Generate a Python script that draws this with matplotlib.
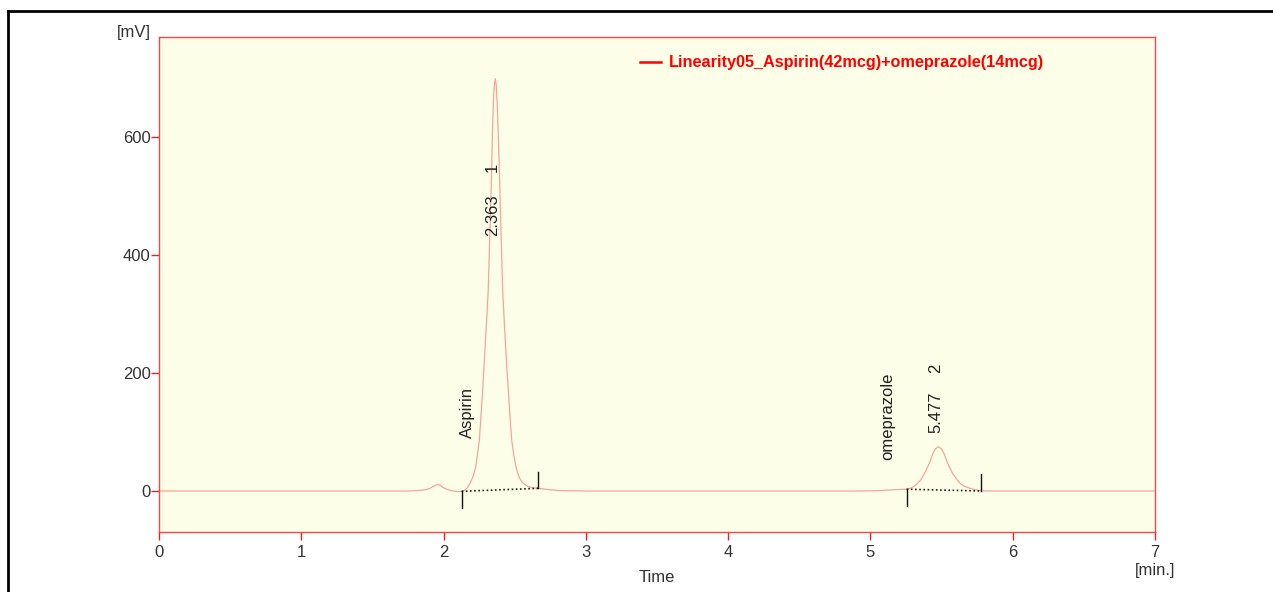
import matplotlib
matplotlib.use('Agg')
import matplotlib.pyplot as plt
from matplotlib.lines import Line2D

plt.rcParams['font.family'] = ['Liberation Sans', 'DejaVu Sans']

# Detector signal, time [min] vs mV
time_min = [0.00, 1.75, 1.80, 1.85, 1.88, 1.905, 1.93, 1.95, 1.963, 1.975, 1.995, 2.022,
            2.05, 2.08, 2.10, 2.127, 2.145, 2.165, 2.186, 2.206, 2.226, 2.238, 2.251,
            2.263, 2.275, 2.285, 2.295, 2.305, 2.314, 2.320, 2.326, 2.332, 2.338, 2.344,
            2.350, 2.356, 2.363, 2.370, 2.378, 2.385, 2.392, 2.398, 2.404, 2.410, 2.415,
            2.425, 2.435, 2.445, 2.455, 2.467, 2.479, 2.494, 2.509, 2.525, 2.540, 2.560,
            2.580, 2.600, 2.630, 2.666, 2.70, 2.75, 2.80, 2.85, 2.95, 3.00,
            4.90, 5.05, 5.12, 5.20, 5.255, 5.278, 5.30, 5.325, 5.353, 5.385, 5.414,
            5.435, 5.455, 5.477, 5.500, 5.520, 5.543, 5.575, 5.610, 5.635, 5.66, 5.70,
            5.74, 5.777, 5.82, 7.00]
signal_mv = [0.0, 0.0, 0.5, 1.5, 2.5, 4.6, 8.0, 10.5, 11.0, 10.0, 6.0, 3.0,
             1.0, -0.5, -1.0, -0.5, 1.0, 5.0, 13.0, 24.0, 41.0, 62.0, 86.0,
             127.0, 171.0, 215.0, 258.0, 300.0, 341.0, 392.0, 443.0, 493.0, 544.0, 613.0,
             657.0, 687.0, 699.0, 688.0, 650.0, 600.0, 544.0, 491.0, 438.0, 385.0, 341.0,
             295.0, 250.0, 208.0, 171.0, 125.0, 86.0, 60.0, 41.0, 27.0, 19.0, 13.0,
             9.5, 7.0, 5.5, 4.5, 3.5, 2.0, 1.0, 0.5, 0.2, 0.0,
             0.0, 0.5, 1.5, 2.5, 3.0, 4.5, 7.0, 11.5, 18.6, 32.0, 47.0,
             61.0, 71.0, 75.0, 71.0, 62.0, 47.0, 31.0, 18.6, 12.0, 8.0, 4.5,
             2.0, 0.5, 0.0, 0.0]

# Integrated peaks
peak_names = ['Aspirin', 'omeprazole']
peak_numbers = ['1', '2']
retention_times = [2.363, 5.477]
base_start = [(2.127, -0.5), (5.255, 3.0)]
base_end = [(2.666, 4.5), (5.777, 0.0)]

legend_label = 'Linearity05_Aspirin(42mcg)+omeprazole(14mcg)'

W, H = 1273, 592
fig = plt.figure(figsize=(W / 100, H / 100), dpi=100)
ax = fig.add_axes([159 / W, 1 - 532 / H, (1155 - 159) / W, (532 - 37) / H])
ax.set_facecolor('#fdfee8')

ax.plot(time_min, signal_mv, color='#f6a596', lw=0.9, zorder=2)

# integration baselines and start / end markers
for (t0, y0), (t1, y1) in zip(base_start, base_end):
    ax.plot([t0, t1], [y0, y1], color='#222222', lw=1.2, ls=(0, (1, 1.5)), zorder=3)
    ax.plot([t0, t0], [y0, y0 - 28], color='#111111', lw=1.0, zorder=3)
    ax.plot([t1, t1], [y1, y1 + 28], color='#111111', lw=1.0, zorder=3)

# peak annotations
ax.text(retention_times[0] - 0.018, 432, f'{retention_times[0]:.3f}', rotation=90,
        ha='center', va='bottom', fontsize=12, color='#222222')
ax.text(retention_times[0] - 0.018, 541, peak_numbers[0], rotation=90,
        ha='center', va='bottom', fontsize=12, color='#222222')
ax.text(2.168, 89, peak_names[0], rotation=90, ha='center', va='bottom',
        fontsize=12, color='#222222')
ax.text(retention_times[1] - 0.018, 98, f'{retention_times[1]:.3f}', rotation=90,
        ha='center', va='bottom', fontsize=12, color='#222222')
ax.text(retention_times[1] - 0.018, 200, peak_numbers[1], rotation=90,
        ha='center', va='bottom', fontsize=12, color='#222222')
ax.text(5.122, 53, peak_names[1], rotation=90, ha='center', va='bottom',
        fontsize=12, color='#222222')

ax.set_xlim(0, 7)
ax.set_ylim(-69.5, 769.5)
ax.set_xticks(range(8))
ax.set_yticks([0, 200, 400, 600])
for s in ax.spines.values():
    s.set_color('#f04848')
    s.set_linewidth(1.0)
ax.tick_params(axis='x', colors='#ee2020', labelcolor='#333333', length=5.5,
               width=1.0, pad=4, labelsize=12)
ax.tick_params(axis='y', colors='#ee2020', labelcolor='#333333', length=5.5,
               width=1.0, pad=0.5, labelsize=12)

ax.text(3.5, -(577 - 532) / 495 * 840 - 69.5, 'Time', ha='center', va='center',
        fontsize=12, color='#333333')
ax.text(7.0, -(570 - 532) / 495 * 840 - 69.5, '[min.]', ha='center', va='center',
        fontsize=12, color='#333333', clip_on=False)
ax.text(-8 / 142.29, 769.5 + 4.5 / 0.59, '[mV]', ha='right', va='center',
        fontsize=12, color='#333333', clip_on=False)

handle = Line2D([], [], color='red', lw=1.8)
ax.legend([handle], [legend_label], loc='center left',
          bbox_to_anchor=((640 - 159) / 996, (532 - 63) / 495),
          frameon=False, borderpad=0, borderaxespad=0, handlelength=1.3,
          handletextpad=0.45, labelcolor='red',
          prop={'weight': 'bold', 'size': 11.7})

# page frame
fig.add_artist(Line2D([7.5 / W, 7.5 / W], [0, 1 - 10.5 / H], color='black', lw=2,
                      transform=fig.transFigure))
fig.add_artist(Line2D([7.5 / W, 1], [1 - 10.5 / H, 1 - 10.5 / H], color='black', lw=2,
                      transform=fig.transFigure))

fig.savefig('out.png', dpi=100, facecolor='white')
